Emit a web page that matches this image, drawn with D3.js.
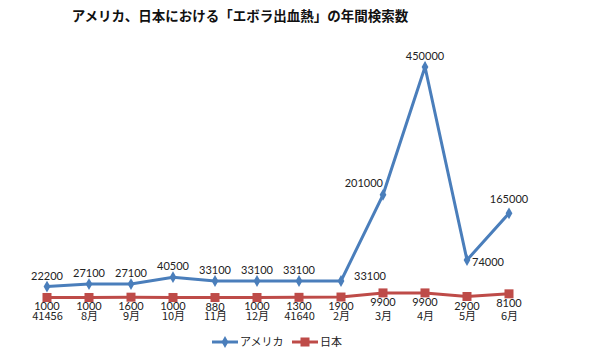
<!DOCTYPE html>
<html><head><meta charset="utf-8">
<script src="https://cdn.jsdelivr.net/npm/d3@7"></script>
<style>body{margin:0;background:#fff}</style>
</head><body>
<svg id="c" width="600" height="358"></svg>
<script>
const categories = ["41456","8月","9月","10月","11月","12月","41640","2月","3月","4月","5月","6月"];
const america = [22200,27100,27100,40500,33100,33100,33100,33100,201000,450000,74000,165000];
const japan = [1000,1000,1600,1000,880,1000,1300,1900,9900,9900,2900,8100];
const title = "アメリカ、日本における「エボラ出血熱」の年間検索数";
const seriesNames = ["アメリカ","日本"];
// label placement for America labels (style)
const usPlace = ["top","top","top","top","top","top","top","right","left","top","right","top"];

const svg = d3.select("#c");
const blue = "#4A7EBB", red = "#BE4B48";
const numFont = "Lato, 'Liberation Sans', sans-serif";
const jpFont = "'Noto Sans CJK JP', sans-serif";

const x = d3.scalePoint().domain(categories).range([47, 509]);
const y = d3.scaleLinear().domain([0, 450000]).range([298, 67]);

svg.append("text").attr("x", 240).attr("y", 21).attr("text-anchor","middle")
  .attr("font-family", jpFont).attr("font-weight","bold").attr("font-size", 13.5).attr("fill","#111").text(title);

const line = d3.line().x((d,i)=>x(categories[i])).y(d=>y(d));

// Japan
svg.append("path").datum(japan).attr("d", line).attr("fill","none").attr("stroke", red).attr("stroke-width", 3);
svg.selectAll(".jm").data(japan).join("rect")
  .attr("x",(d,i)=>x(categories[i])-4.5).attr("y",d=>y(d)-4.5).attr("width",9).attr("height",9).attr("fill",red);

// America
svg.append("path").datum(america).attr("d", line).attr("fill","none").attr("stroke", blue).attr("stroke-width", 3);
const sym = d3.symbol().type(d3.symbolDiamond).size(40);
svg.selectAll(".am").data(america).join("path")
  .attr("transform",(d,i)=>`translate(${x(categories[i])},${y(d)})`).attr("d", sym).attr("fill", blue);

// America labels
svg.selectAll(".al").data(america).join("text")
  .attr("font-family", numFont).attr("font-size", 11).attr("fill","#222")
  .each(function(d,i){
    const px = x(categories[i]), py = y(d), p = usPlace[i];
    const t = d3.select(this).text(d);
    if (p === "top") t.attr("x", px).attr("y", py - (i===11?10:7)).attr("text-anchor","middle");
    else if (p === "right") t.attr("x", px + (i===7?13:5)).attr("y", py + (i===7?-1:6)).attr("text-anchor","start");
    else t.attr("x", px).attr("y", py - 8).attr("text-anchor","end");
  });

// Japan labels
svg.selectAll(".jl").data(japan).join("text")
  .attr("x",(d,i)=>x(categories[i])).attr("y",d=>y(d)+13).attr("text-anchor","middle")
  .attr("font-family", numFont).attr("font-size", 11).attr("fill","#222").text(d=>d);

// category labels
const xAxis = d3.axisBottom(x).tickSize(0);
const ax = svg.append("g").attr("transform","translate(0,309)").call(xAxis);
ax.select(".domain").remove();
ax.selectAll("text").attr("font-family", jpFont).attr("font-size", 11).attr("fill","#222");

// legend
const leg = svg.append("g");
[[212,blue,"d"],[292,red,"s"]].forEach(([lx,c,t],k)=>{
  leg.append("line").attr("x1",lx).attr("x2",lx+26).attr("y1",342).attr("y2",342).attr("stroke",c).attr("stroke-width",3);
  if (t==="d") leg.append("path").attr("transform",`translate(${lx+13},342)`).attr("d",sym).attr("fill",c);
  else leg.append("rect").attr("x",lx+8.5).attr("y",337.5).attr("width",9).attr("height",9).attr("fill",c);
  leg.append("text").attr("x",lx+28).attr("y",346).attr("font-family",jpFont).attr("font-size",11).attr("fill","#222").text(seriesNames[k]);
});
</script>
</body></html>
